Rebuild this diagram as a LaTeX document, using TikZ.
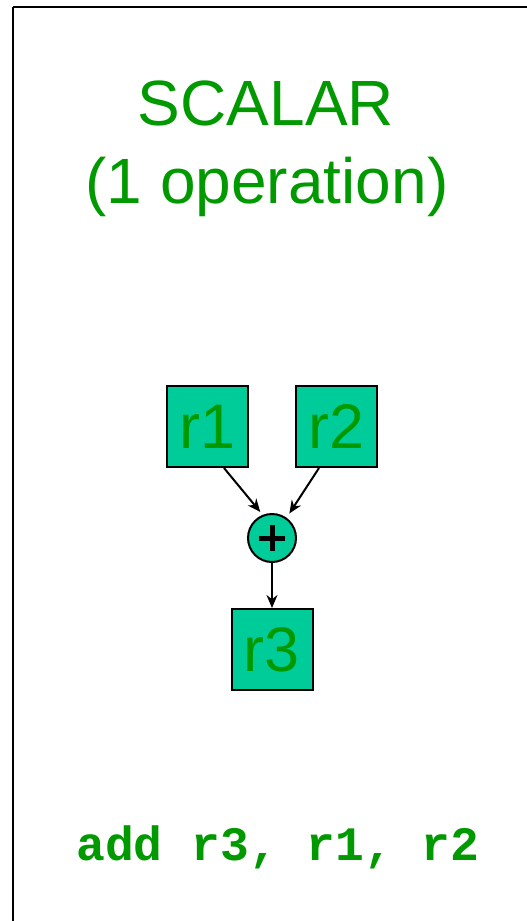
\documentclass[tikz,border=0pt]{standalone}
\usepackage{fontspec}
\setmainfont{Liberation Sans}
\setmonofont{Liberation Mono}
\usetikzlibrary{arrows.meta}
\definecolor{regfill}{RGB}{0,204,153}
\definecolor{textgreen}{RGB}{0,153,0}
\tikzset{
  reg/.style={draw=black, line width=2pt, fill=regfill, minimum size=81pt,
    inner sep=0pt, text=textgreen, font=\fontsize{63}{63}\selectfont},
  opnode/.style={circle, draw=black, line width=2pt, fill=regfill, minimum size=48pt,
    inner sep=0pt},
  flow/.style={-{Stealth[length=13pt,width=11pt]}, line width=2pt},
  title/.style={text=textgreen, font=\fontsize{64}{64}\selectfont, anchor=base},
  code/.style={text=textgreen, font=\fontsize{48}{48}\selectfont\ttfamily\bfseries, anchor=base}
}
\begin{document}
\begin{tikzpicture}[x=1pt, y=-1pt]
  \useasboundingbox (0,0) rectangle (527,921);
  % panel frame, running off the right and bottom edges
  \draw[line width=2.5pt] (13,7) -- (540,7);
  \draw[line width=2.5pt] (13,7) -- (13,930);
  % heading
  \node[title] (t1) at (266,125) {SCALAR};
  \node[title] (t2) at (267,203) {(1 operation)};
  % registers and adder
  \node[reg] (r1) at (207.5,426.5) {r1};
  \node[reg] (r2) at (336.5,426.5) {r2};
  \node[opnode] (add) at (272,538) {};
  \draw[line width=5pt] ([xshift=-13pt]add.center) -- ([xshift=13pt]add.center)
                        ([yshift=-13pt]add.center) -- ([yshift=13pt]add.center);
  \node[reg] (r3) at (272,649.5) {r3};
  \draw[flow] (r1.south) ++(16.5,0) coordinate (r1o) -- ([shift={(0,-4)}]add.118);
  \draw[flow] (r2.south) ++(-17.5,0) coordinate (r2o) -- ([shift={(3,-4)}]add.55);
  \draw[flow] (add) -- (r3);
  % instruction
  \node[code] (ins) at (278,860) {add r3, r1, r2};
\end{tikzpicture}
\end{document}
